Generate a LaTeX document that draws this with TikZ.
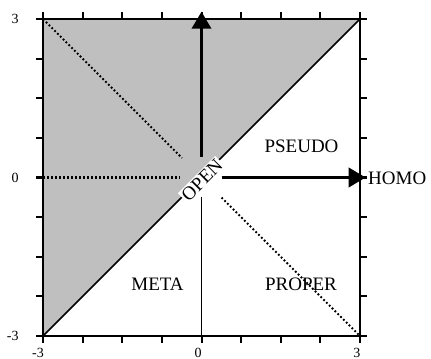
\documentclass[tikz,border=0pt]{standalone}
\usepackage{fontspec}
\setmainfont{Liberation Serif}
\usetikzlibrary{arrows.meta}
\begin{document}
\begin{tikzpicture}[x=52.8bp,y=52.8bp,
  lbl/.style={font=\fontsize{19bp}{22bp}\selectfont, inner sep=0pt},
  axlbl/.style={font=\fontsize{14bp}{16bp}\selectfont, inner sep=0pt},
  dotline/.style={line width=2bp, dash pattern=on 1.8bp off 2.2bp},
  bigarrow/.style={line width=3.8bp, -{Triangle[length=17bp,width=19bp]}},
  frameline/.style={line width=2.2bp},
  thinline/.style={line width=1.7bp},
  tickline/.style={line width=2bp}
  ]
\useasboundingbox (-3.8163,-3.4375) rectangle (4.3466,3.3617);
\coordinate (bl) at (-3,-3);
\coordinate (tl) at (-3,3);
\coordinate (tr) at (3,3);
\coordinate (br) at (3,-3);
\coordinate (ml) at (-3,0);
\coordinate (mb) at (0,-3);
\coordinate (mt) at (0,3.14);
\coordinate (mr) at (3.11,0);
\coordinate (c1) at (-0.37,0.37);
\coordinate (c2) at (-0.40,0);
\coordinate (c3) at (0.38,-0.38);
\coordinate (c4) at (0,-0.37);
\coordinate (c5) at (0,0.39);
\coordinate (c6) at (0.38,0);
% shaded triangle
\fill[black!25] (bl) -- (tl) -- (tr) -- cycle;
% diagonal
\draw[thinline] (bl) -- (tr);
% dotted lines
\draw[dotline] (tl) -- (c1);
\draw[dotline] (ml) -- (c2);
\draw[dotline] (c3) -- (br);
% vertical thin line
\draw[thinline] (mb) -- (c4);
% thick arrows
\draw[bigarrow] (c5) -- (mt);
\draw[bigarrow] (c6) -- (mr);
% frame
\draw[frameline] (bl) rectangle (tr);
% ticks
\foreach \i in {0,...,8} {
  \pgfmathsetmacro\t{-3+0.75*\i}
  \draw[tickline] (\t,3) -- (\t,3.13);
  \draw[tickline] (\t,-3) -- (\t,-3.13);
  \draw[tickline] (-3,\t) -- (-3.13,\t);
  \draw[tickline] (3,\t) -- (3.13,\t);
}
% labels
\node[lbl, rotate=45, fill=white, inner sep=1.5bp] (open) at (0.01,-0.05) {OPEN};
\node[lbl] (pseudo) at (1.894,0.597) {PSEUDO};
\node[lbl] (meta) at (-0.833,-2.017) {META};
\node[lbl] (proper) at (1.884,-2.017) {PROPER};
\node[lbl, anchor=west] (homo) at (3.153,-0.01) {HOMO};
% axis labels
\node[axlbl, anchor=east] (yl3) at (-3.46,3) {3};
\node[axlbl, anchor=east] (yl0) at (-3.46,-0.01) {0};
\node[axlbl, anchor=east] (ylm3) at (-3.46,-3) {-3};
\node[axlbl] (xlm3) at (-3.097,-3.32) {-3};
\node[axlbl] (xl0) at (-0.066,-3.32) {0};
\node[axlbl] (xl3) at (2.945,-3.32) {3};
\end{tikzpicture}
\end{document}
